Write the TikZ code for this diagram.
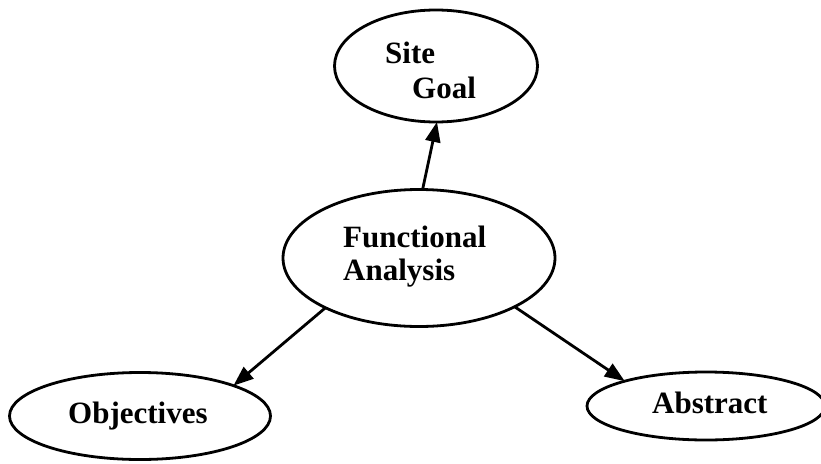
\documentclass[tikz,border=0pt]{standalone}
\usepackage{fontspec}
\setmainfont{Liberation Serif}
\usetikzlibrary{shapes.geometric,arrows.meta}
\begin{document}
\begin{tikzpicture}[x=1pt,y=-1pt,
  oval/.style={draw,ellipse,line width=2.8pt,inner sep=0pt,outer sep=0pt},
  lbl/.style={anchor=base west,inner sep=0pt,font=\fontsize{31}{37}\selectfont\bfseries},
  conn/.style={line width=2.8pt,-{Triangle[length=20pt,width=15pt]}}]
\useasboundingbox[fill=white] (0,0) rectangle (821,463);
\node[oval,minimum width=203pt,minimum height=112pt] (sg) at (436,66) {};
\node[oval,minimum width=272pt,minimum height=137pt] (fa) at (419,258) {};
\node[oval,minimum width=261pt,minimum height=87pt] (ob) at (140,416) {};
\node[oval,minimum width=238pt,minimum height=68pt] (ab) at (706,406) {};
\node[lbl] (t1) at (385,63) {Site};
\node[lbl] (t2) at (412,98) {Goal};
\node[lbl] (t3) at (343,247) {Functional};
\node[lbl] (t4) at (343,280) {Analysis};
\node[lbl] (t5) at (68,423) {Objectives};
\node[lbl] (t6) at (652,413) {Abstract};
\draw[conn] (fa.87) -- (sg.271);
\draw[conn] (fa.208) -- (ob.18.6);
\draw[conn] (fa.333.4) -- (ab.163.5);
\end{tikzpicture}
\end{document}
